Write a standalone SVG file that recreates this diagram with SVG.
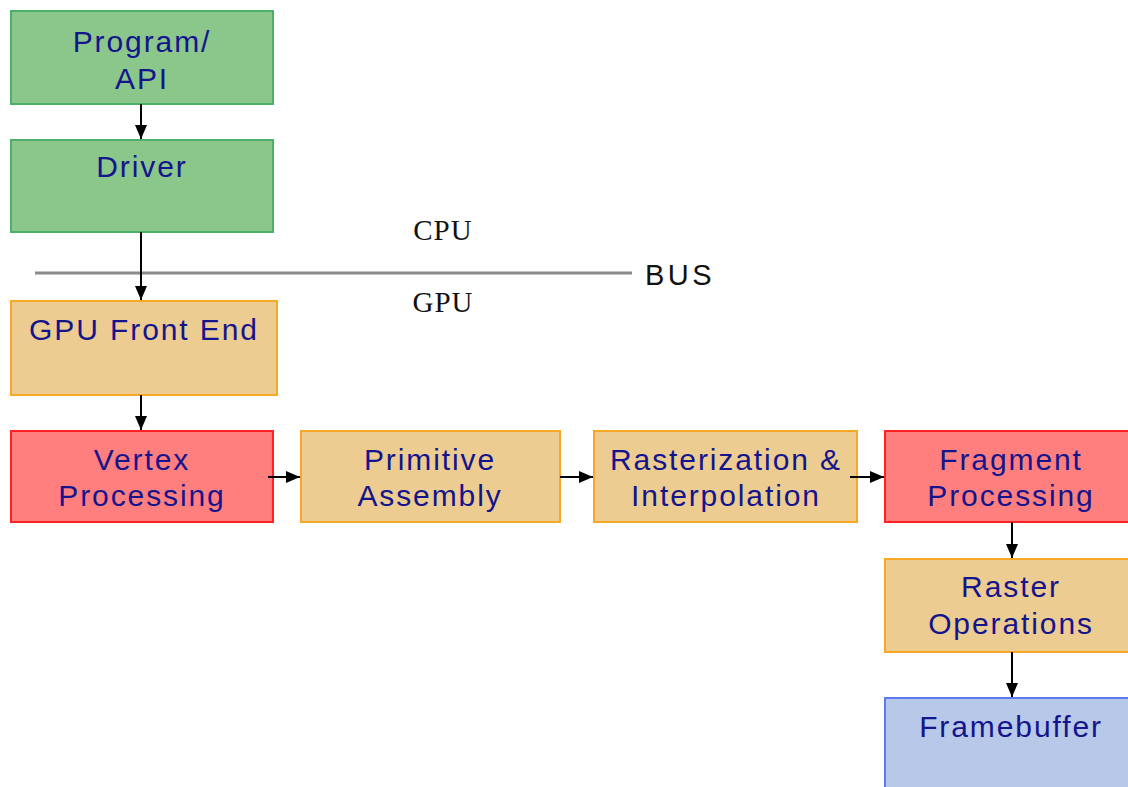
<svg xmlns="http://www.w3.org/2000/svg" width="1128" height="787" viewBox="0 0 1128 787">
<defs>
<marker id="ah" viewBox="0 0 14 12" refX="14" refY="6" markerWidth="14" markerHeight="12" markerUnits="userSpaceOnUse" orient="auto">
<path d="M0,0 L14,6 L0,12 Z" fill="#000"/>
</marker>
<style>
.t{font-family:"Liberation Sans",Arial,sans-serif;font-size:30px;letter-spacing:1.9px;fill:#14148c;text-anchor:middle}
.g{fill:#8bc68b;stroke:#4caf6a;stroke-width:2}
.o{fill:#eccc90;stroke:#f8a824;stroke-width:2}
.r{fill:#ff7f7f;stroke:#ff2222;stroke-width:2}
.b{fill:#b8c8e8;stroke:#5a7cf0;stroke-width:2}
.c{stroke:#000;stroke-width:2;fill:none;marker-end:url(#ah)}
.s{font-family:"Liberation Serif","Times New Roman",serif;font-size:29px;letter-spacing:1px;fill:#111;text-anchor:middle}
</style>
</defs>
<rect width="1128" height="787" fill="#fff"/>
<line x1="35" y1="273" x2="632" y2="273" stroke="#8a8a8a" stroke-width="3"/>
<text x="645" y="285" style="font-family:'Liberation Sans',Arial,sans-serif;font-size:29px;letter-spacing:3.5px;fill:#111">BUS</text>
<text class="s" x="443" y="240">CPU</text>
<text class="s" x="443" y="312">GPU</text>
<g id="program"><rect class="g" x="11" y="11" width="262" height="93"/><text class="t" x="142" y="52">Program/</text><text class="t" x="142" y="89">API</text></g>
<g id="driver"><rect class="g" x="11" y="140" width="262" height="92"/><text class="t" x="142" y="177">Driver</text></g>
<g id="frontend"><rect class="o" x="11" y="301" width="266" height="94"/><text class="t" x="144" y="340">GPU Front End</text></g>
<g id="vertex"><rect class="r" x="11" y="431" width="262" height="91"/><text class="t" x="142" y="470">Vertex</text><text class="t" x="142" y="506">Processing</text></g>
<g id="primitive"><rect class="o" x="301" y="431" width="259" height="91"/><text class="t" x="430" y="470">Primitive</text><text class="t" x="430" y="506">Assembly</text></g>
<g id="raster"><rect class="o" x="594" y="431" width="263" height="91"/><text class="t" x="726" y="470">Rasterization &amp;</text><text class="t" x="726" y="506">Interpolation</text></g>
<g id="fragment"><rect class="r" x="885" y="431" width="260" height="91"/><text class="t" x="1011" y="470">Fragment</text><text class="t" x="1011" y="506">Processing</text></g>
<g id="rop"><rect class="o" x="885" y="559" width="260" height="93"/><text class="t" x="1011" y="597">Raster</text><text class="t" x="1011" y="634">Operations</text></g>
<g id="framebuffer"><rect class="b" x="885" y="698" width="260" height="100"/><text class="t" x="1011" y="737">Framebuffer</text></g>
<g id="connectors">
<line class="c" x1="141" y1="104" x2="141" y2="139"/>
<line class="c" x1="141" y1="232" x2="141" y2="300"/>
<line class="c" x1="141" y1="395" x2="141" y2="430"/>
<line class="c" x1="268" y1="477" x2="300" y2="477"/>
<line class="c" x1="560" y1="477" x2="593" y2="477"/>
<line class="c" x1="850" y1="477" x2="884" y2="477"/>
<line class="c" x1="1012" y1="522" x2="1012" y2="558"/>
<line class="c" x1="1012" y1="652" x2="1012" y2="697"/>
</g>
</svg>
